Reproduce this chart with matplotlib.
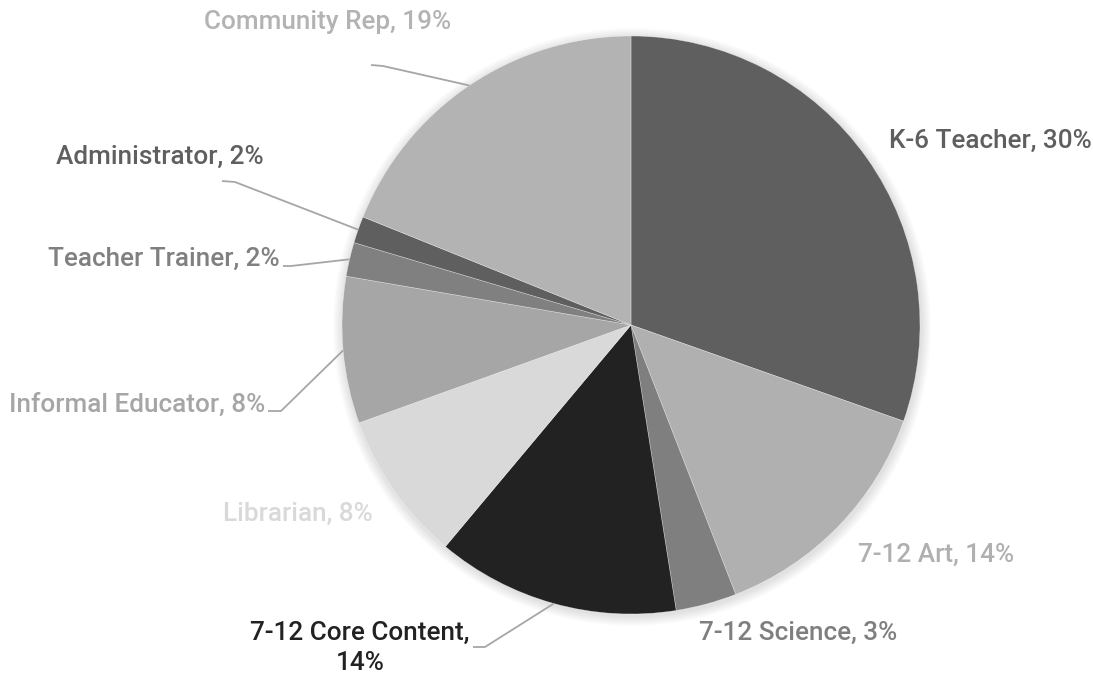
import matplotlib
matplotlib.use("Agg")
import matplotlib.pyplot as plt
import numpy as np

categories = ["K-6 Teacher", "7-12 Art", "7-12 Science", "7-12 Core Content",
              "Librarian", "Informal Educator", "Teacher Trainer", "Administrator",
              "Community Rep"]
values = [30.4, 13.7, 3.4, 13.6, 8.4, 8.2, 1.9, 1.5, 18.9]
label_pcts = ["30%", "14%", "3%", "14%", "8%", "8%", "2%", "2%", "19%"]
colors = ["#5f5f5f", "#b0b0b0", "#7f7f7f", "#222222", "#d9d9d9",
          "#a6a6a6", "#808080", "#5f5f5f", "#b3b3b3"]

W, H = 1093, 677
fig = plt.figure(figsize=(W / 100, H / 100), dpi=100)
ax = fig.add_axes([0, 0, 1, 1])

cx, cy, R = 631, H - 325, 289

# soft shadow
for i in range(10):
    c = plt.Circle((cx + 1, cy - 2), R + 10 - i, color="black", alpha=0.012, lw=0, zorder=0)
    ax.add_patch(c)

wedges, _ = ax.pie(values, colors=colors, startangle=90, counterclock=False,
                   center=(cx, cy), radius=R, frame=True,
                   wedgeprops=dict(linewidth=0.4, edgecolor="#ffffff80"))
ax.set_xlim(0, W)
ax.set_ylim(0, H)
ax.set_aspect("equal")
ax.axis("off")

font = "Roboto"
fs = 18.8

# (text x, text y, ha, elbow points list or None) in pixel coords (y from top)
layout = {
    "K-6 Teacher": (889, 141, "left", None),
    "7-12 Art": (858, 555, "left", None),
    "7-12 Science": (699, 633, "left", None),
    "7-12 Core Content": (360, 648, "center", [(473, 647), (485, 647)]),
    "Librarian": (298, 514, "center", None),
    "Informal Educator": (137, 405, "center", [(268, 411), (281, 411)]),
    "Teacher Trainer": (164, 259, "center", [(283, 266), (291, 266)]),
    "Administrator": (160, 157, "center", [(222, 181), (235, 182)]),
    "Community Rep": (328, 22, "center", [(371, 65), (383, 66)]),
}

for w, cat, pct, col in zip(wedges, categories, label_pcts, colors):
    tx, ty, ha, elbow = layout[cat]
    txt = f"{cat}, {pct}"
    if cat == "7-12 Core Content":
        txt = f"{cat},\n{pct}"
    ax.text(tx, H - ty, txt, ha=ha, va="center", fontsize=fs, color=col,
            family=[font, "DejaVu Sans"], fontweight="medium", linespacing=1.35)
    if elbow:
        mid = np.deg2rad((w.theta1 + w.theta2) / 2)
        ex, ey = cx + R * np.cos(mid), cy + R * np.sin(mid)
        xs = [p[0] for p in elbow] + [ex]
        ys = [H - p[1] for p in elbow] + [ey]
        ax.plot(xs, ys, color="#a6a6a6", lw=1.3, zorder=5, solid_capstyle="butt")

fig.savefig("out.png", dpi=100)
